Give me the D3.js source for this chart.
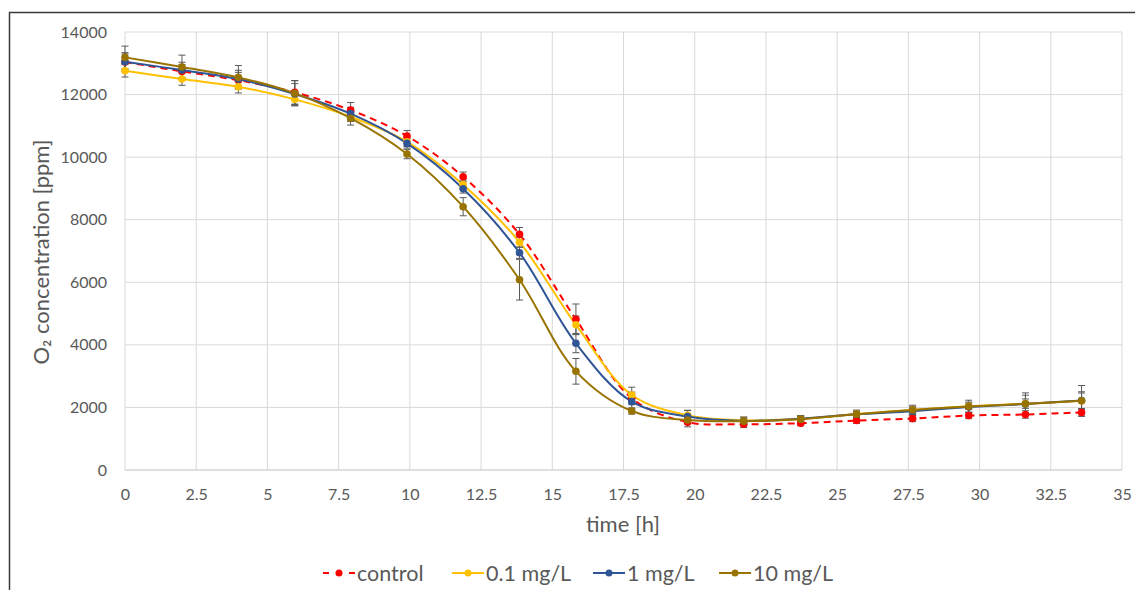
<!DOCTYPE html>
<html><head><meta charset="utf-8">
<script src="https://cdn.jsdelivr.net/npm/d3@7"></script>
<style>
html,body{margin:0;padding:0;background:#fff;}
svg{display:block;}
text{font-family:Lato,"Open Sans",sans-serif;fill:#595959;}
</style></head>
<body>
<svg id="chart" width="1135" height="590"></svg>
<script>
// ---- data ----
const time = [0, 2, 3.98, 5.96, 7.92, 9.9, 11.87, 13.85, 15.83, 17.79, 19.75, 21.72, 23.72, 25.68, 27.65, 29.62, 31.61, 33.58];
const control = [13040, 12740, 12460, 12070, 11505, 10674, 9374, 7532, 4816, 2290, 1530, 1465, 1495, 1580, 1645, 1740, 1775, 1840];
const c01 = [12761, 12496, 12250, 11847, 11290, 10490, 9120, 7280, 4644, 2397, 1750, 1590, 1640, 1790, 1920, 2040, 2120, 2210];
const c1 = [13049, 12783, 12496, 12020, 11390, 10440, 8990, 6945, 4049, 2184, 1710, 1570, 1640, 1780, 1880, 2010, 2110, 2220];
const c10 = [13189, 12880, 12550, 12040, 11245, 10099, 8416, 6082, 3154, 1886, 1598, 1560, 1625, 1785, 1920, 2030, 2115, 2210];
const errControl = [300, 220, 250, 380, 240, 180, 150, 220, 490, 200, 150, 110, 80, 90, 100, 100, 120, 120];
const err01 = [200, 200, 200, 200, 150, 150, 120, 160, 280, 250, 150, 100, 80, 80, 100, 100, 150, 250];
const err1 = [250, 250, 280, 330, 200, 150, 140, 180, 300, 220, 200, 120, 100, 100, 130, 160, 280, 280];
const err10 = [360, 380, 380, 400, 220, 150, 290, 650, 410, 100, 120, 120, 100, 130, 150, 200, 350, 490];
const seriesNames = ["control", "0.1 mg/L", "1 mg/L", "10 mg/L"];
const xTicks = [0, 2.5, 5, 7.5, 10, 12.5, 15, 17.5, 20, 22.5, 25, 27.5, 30, 32.5, 35];
const yTicks = [0, 2000, 4000, 6000, 8000, 10000, 12000, 14000];
const xTitle = "time [h]";
const yTitle = "O\u2082 concentration [ppm]";

const series = [
  {name: seriesNames[0], vals: control, err: errControl, color: "#FF0000", dash: "7,5"},
  {name: seriesNames[1], vals: c01, err: err01, color: "#FFC000", dash: null},
  {name: seriesNames[2], vals: c1, err: err1, color: "#2F5597", dash: null},
  {name: seriesNames[3], vals: c10, err: err10, color: "#997300", dash: null}
];

const svg = d3.select("#chart");
const x = d3.scaleLinear().domain([0, 35]).range([125, 1122]);
const y = d3.scaleLinear().domain([0, 14000]).range([470, 32]);

// frame (cropped chart border)
svg.append("path").attr("d", "M9.5,600 V12.5 H1140")
  .attr("fill", "none").attr("stroke", "#3a3a3a").attr("stroke-width", 1.5);

// gridlines
const grid = svg.append("g");
grid.selectAll("line.h").data(yTicks).join("line")
  .attr("x1", x(0)).attr("x2", x(35)).attr("y1", d => y(d)).attr("y2", d => y(d))
  .attr("stroke", d => d === 0 ? "#bfbfbf" : "#d9d9d9").attr("stroke-width", 1);
grid.selectAll("line.v").data(xTicks).join("line")
  .attr("y1", y(0)).attr("y2", y(14000)).attr("x1", d => x(d)).attr("x2", d => x(d))
  .attr("stroke", "#d9d9d9").attr("stroke-width", 1);

// axes (labels only)
const yAxis = svg.append("g").attr("transform", `translate(${x(0)},0)`)
  .call(d3.axisLeft(y).tickValues(yTicks).tickSize(0).tickPadding(18).tickFormat(d3.format("d")));
yAxis.select(".domain").remove();
yAxis.selectAll("text").style("font-size", "16px").style("fill", "#595959").style("font-family", "Lato");

const xAxis = svg.append("g").attr("transform", `translate(0,${y(0)})`)
  .call(d3.axisBottom(x).tickValues(xTicks).tickSize(0).tickPadding(19).tickFormat(d => String(d)));
xAxis.select(".domain").remove();
xAxis.selectAll("text").style("font-size", "16px").style("fill", "#595959").style("font-family", "Lato");

// titles
svg.append("text").attr("x", 623).attr("y", 532).attr("text-anchor", "middle")
  .style("font-size", "22px").text(xTitle);
svg.append("text").attr("transform", "translate(49,252) rotate(-90)").attr("text-anchor", "middle")
  .style("font-size", "22px").text(yTitle);

// lines
const line = d3.line().x(d => x(d[0])).y(d => y(d[1])).curve(d3.curveCatmullRom.alpha(0.5));
const plot = svg.append("g");
series.forEach(s => {
  const pts = time.map((t, i) => [t, s.vals[i]]);
  plot.append("path").attr("d", line(pts)).attr("fill", "none")
    .attr("stroke", s.color).attr("stroke-width", 2)
    .attr("stroke-dasharray", s.dash);
});
// error bars
series.forEach(s => {
  const g = plot.append("g").attr("stroke", "#595959").attr("stroke-width", 1);
  time.forEach((t, i) => {
    const cx = x(t), y1 = y(s.vals[i] + s.err[i]), y2 = y(s.vals[i] - s.err[i]);
    g.append("line").attr("x1", cx).attr("x2", cx).attr("y1", y1).attr("y2", y2);
    g.append("line").attr("x1", cx - 3.5).attr("x2", cx + 3.5).attr("y1", y1).attr("y2", y1);
    g.append("line").attr("x1", cx - 3.5).attr("x2", cx + 3.5).attr("y1", y2).attr("y2", y2);
  });
});
// markers
series.forEach(s => {
  plot.append("g").selectAll("circle").data(time.map((t, i) => [t, s.vals[i]])).join("circle")
    .attr("cx", d => x(d[0])).attr("cy", d => y(d[1])).attr("r", 3.8).attr("fill", s.color);
});

// legend
const legendX = [323, 452, 593, 719];
const lg = svg.append("g");
series.forEach((s, i) => {
  const lx = legendX[i], ly = 573;
  lg.append("line").attr("x1", lx).attr("x2", lx + 32).attr("y1", ly).attr("y2", ly)
    .attr("stroke", s.color).attr("stroke-width", 2).attr("stroke-dasharray", s.dash ? "6,7" : null);
  lg.append("circle").attr("cx", lx + 16).attr("cy", ly).attr("r", 3.5).attr("fill", s.color);
  lg.append("text").attr("x", lx + 34).attr("y", ly + 7.5).style("font-size", "21.5px").text(s.name);
});
</script>
</body></html>
